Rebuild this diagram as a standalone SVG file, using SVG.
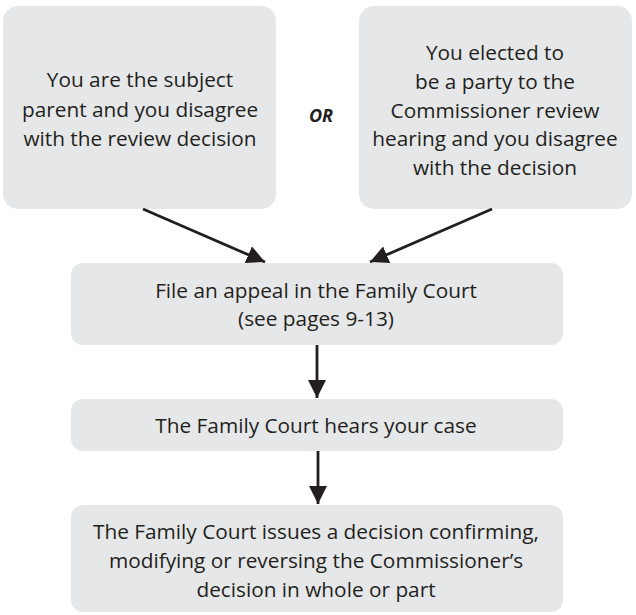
<svg xmlns="http://www.w3.org/2000/svg" width="636" height="615" viewBox="0 0 636 615">
<style>
.box{fill:#e6e7e8;}
.t{font-family:"Open Sans","DejaVu Sans",sans-serif;font-size:20.8px;fill:#231f20;text-anchor:middle;}
.or{font-family:"Open Sans","DejaVu Sans",sans-serif;font-size:18px;font-weight:bold;font-style:italic;fill:#231f20;text-anchor:middle;}
.c{stroke:#231f20;stroke-width:2.8;fill:none;}
</style>
<defs>
<marker id="ah" viewBox="0 0 10 10" refX="10" refY="5" markerWidth="6.5" markerHeight="6.5" markerUnits="strokeWidth" orient="auto">
<path d="M0,0 L10,5 L0,10 Z" fill="#231f20"/>
</marker>
</defs>
<g id="node-subject">
<rect class="box" x="3" y="6" width="273" height="203" rx="15"/>
<text class="t" x="140" y="87">You are the subject</text>
<text class="t" x="140" y="117">parent and you disagree</text>
<text class="t" x="140" y="146">with the review decision</text>
</g>
<g id="node-or">
<text class="or" x="321" y="122">OR</text>
</g>
<g id="node-party">
<rect class="box" x="359" y="6" width="273" height="203" rx="15"/>
<text class="t" x="495" y="60">You elected to</text>
<text class="t" x="495" y="89">be a party to the</text>
<text class="t" x="495" y="118">Commissioner review</text>
<text class="t" x="495" y="146">hearing and you disagree</text>
<text class="t" x="495" y="175">with the decision</text>
</g>
<g id="node-appeal">
<rect class="box" x="71" y="263" width="492" height="82" rx="12"/>
<text class="t" x="316" y="298">File an appeal in the Family Court</text>
<text class="t" x="316" y="326">(see pages 9-13)</text>
</g>
<g id="node-hears">
<rect class="box" x="71" y="399" width="492" height="52" rx="12"/>
<text class="t" x="316" y="433">The Family Court hears your case</text>
</g>
<g id="node-decision">
<rect class="box" x="71" y="505" width="492" height="107" rx="12"/>
<text class="t" x="316" y="539">The Family Court issues a decision confirming,</text>
<text class="t" x="316" y="568">modifying or reversing the Commissioner’s</text>
<text class="t" x="316" y="597">decision in whole or part</text>
</g>
<g id="connectors">
<line class="c" x1="143" y1="209" x2="265" y2="262" marker-end="url(#ah)"/>
<line class="c" x1="492" y1="209" x2="370" y2="262" marker-end="url(#ah)"/>
<line class="c" x1="317" y1="345" x2="317" y2="398" marker-end="url(#ah)"/>
<line class="c" x1="318" y1="451" x2="318" y2="504" marker-end="url(#ah)"/>
</g>
</svg>
